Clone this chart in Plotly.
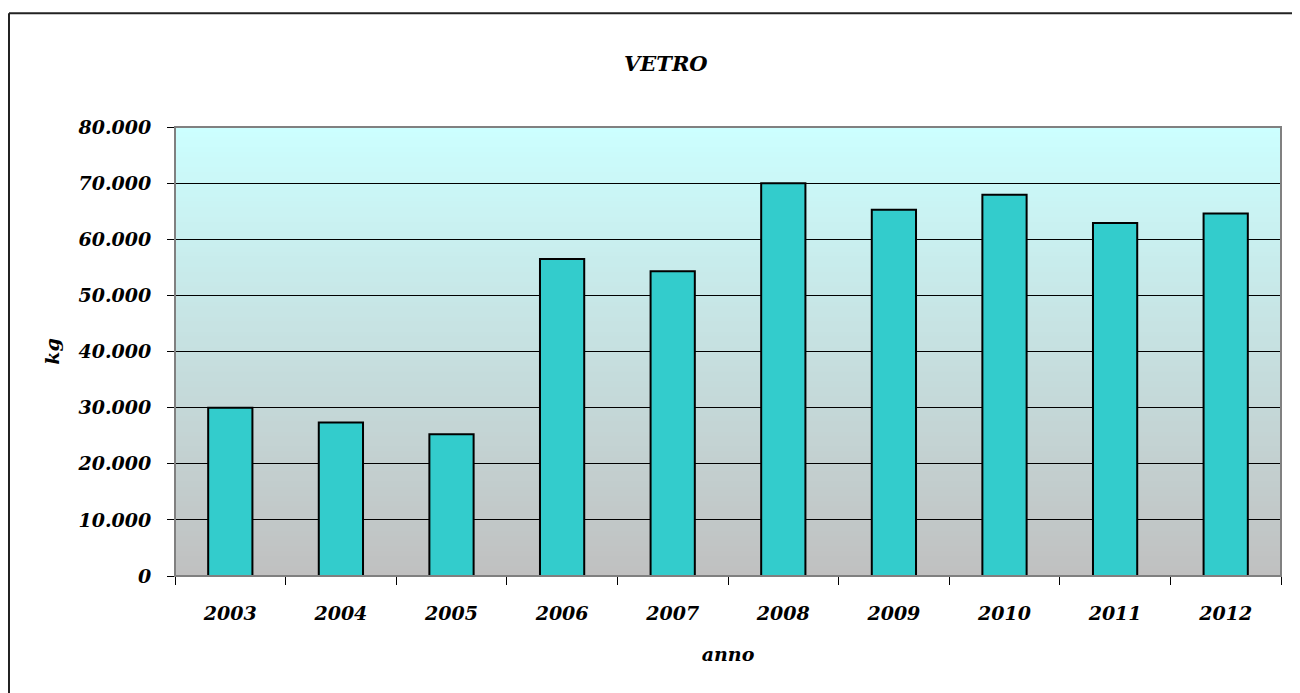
import plotly.graph_objects as go

years = ["2003", "2004", "2005", "2006", "2007", "2008", "2009", "2010", "2011", "2012"]
kg = [30000, 27350, 25250, 56500, 54300, 70000, 65250, 67950, 62900, 64600]
y_ticks = [0, 10000, 20000, 30000, 40000, 50000, 60000, 70000, 80000]

FONT = "DejaVu Serif"

fig = go.Figure()
fig.add_trace(go.Bar(
    x=years, y=kg,
    marker=dict(color="#33CCCC", line=dict(color="black", width=2)),
    width=0.4,
))

# gradient background (cyan top -> grey bottom)
top = (204, 255, 255)
bot = (192, 192, 192)
n = 90
shapes = []
for i in range(n):
    t = (i + 0.5) / n
    c = tuple(round(bot[k] + (top[k] - bot[k]) * t) for k in range(3))
    shapes.append(dict(type="rect", xref="x domain", yref="y domain",
                       x0=0, x1=1, y0=i / n, y1=(i + 1) / n + 0.002,
                       fillcolor="rgb(%d,%d,%d)" % c, line=dict(width=0),
                       layer="below"))
# grey plot border
shapes.append(dict(type="rect", xref="x domain", yref="y domain",
                   x0=0, x1=1, y0=0, y1=1, line=dict(color="#808080", width=2),
                   fillcolor="rgba(0,0,0,0)", layer="above"))
# outer chart frame (left and top edges; the rest lies outside the view)
shapes.append(dict(type="line", xref="paper", yref="paper",
                   x0=-0.1501, x1=1.2, y0=1.2536, y1=1.2536,
                   line=dict(color="#222222", width=2), layer="above"))
shapes.append(dict(type="line", xref="paper", yref="paper",
                   x0=-0.1501, x1=-0.1501, y0=-0.4, y1=1.2536,
                   line=dict(color="#222222", width=2), layer="above"))

fig.update_layout(
    width=1300, height=693,
    margin=dict(l=167, r=27, t=119, b=125),
    paper_bgcolor="white",
    plot_bgcolor="rgba(0,0,0,0)",
    separators=",.",
    showlegend=False,
    shapes=shapes,
    font=dict(family=FONT, size=18, color="black"),
    title=dict(text="<b><i>VETRO</i></b>", x=0.506, xanchor="center",
               y=0.92, yanchor="middle",
               font=dict(family=FONT, size=21, color="black")),
    bargap=0.6,
)

fig.update_xaxes(
    type="category",
    showline=True, linecolor="black", linewidth=1,
    ticks="outside", tickson="boundaries", ticklen=8, tickcolor="black",
    tickvals=years, ticktext=["<b><i>%s</i></b>" % y for y in years],
    tickfont=dict(family=FONT, size=19, color="black"),
    ticklabelstandoff=20,
    title=dict(text="<b><i>anno</i></b>", standoff=24,
               font=dict(family=FONT, size=19, color="black")),
    showgrid=False,
)
fig.update_yaxes(
    range=[0, 80000],
    tickvals=y_ticks,
    ticktext=["<b><i>%s</i></b>" % ("{:,}".format(v).replace(",", ".")) for v in y_ticks],
    showline=True, linecolor="black", linewidth=1,
    ticks="outside", ticklen=7, tickcolor="black",
    tickfont=dict(family=FONT, size=19, color="black"),
    ticklabelstandoff=12,
    showgrid=True, gridcolor="black", gridwidth=1,
    zeroline=False,
    title=dict(text="<b><i>kg</i></b>", standoff=12,
               font=dict(family=FONT, size=19, color="black")),
)

fig.write_html("out.html")
